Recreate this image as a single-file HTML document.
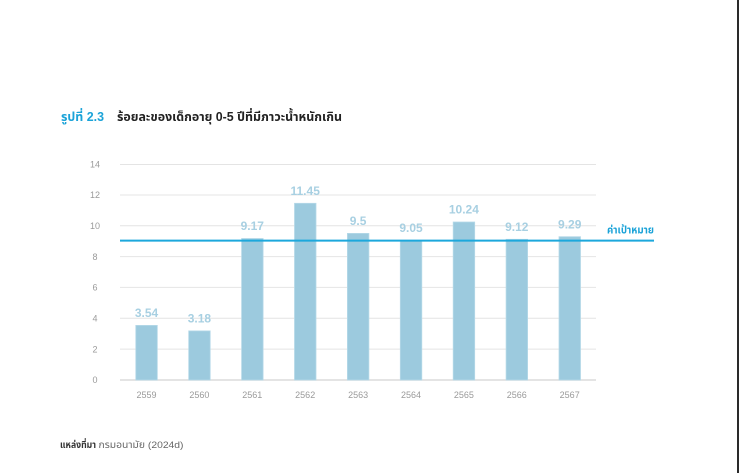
<!DOCTYPE html>
<html>
<head>
<meta charset="utf-8">
<style>
  html, body { margin: 0; padding: 0; background: #ffffff; }
  body { width: 739px; height: 473px; overflow: hidden; position: relative; }
  svg { position: absolute; left: 0; top: 0; }
  .thai { font-family: "Liberation Sans", "Noto Sans Thai", "Tlwg Typo", "Loma", "Garuda", "Norasi", "DejaVu Sans", sans-serif; }
  .num { font-family: "Liberation Sans", "DejaVu Sans", sans-serif; }
</style>
</head>
<body>
<svg width="739" height="473" viewBox="0 0 739 473" xmlns="http://www.w3.org/2000/svg">
  <rect x="0" y="0" width="739" height="473" fill="#ffffff"/>
  <rect x="737" y="0" width="2" height="473" fill="#2a2a2a"/>

  <!-- Title -->
  <text class="thai" x="61" y="121" font-size="12.5" font-weight="bold" fill="#1ba3d8" textLength="43" lengthAdjust="spacingAndGlyphs">รูปที่ 2.3</text>
  <text class="thai" x="117" y="121" font-size="12.5" font-weight="bold" fill="#222222" textLength="225" lengthAdjust="spacingAndGlyphs">ร้อยละของเด็กอายุ 0-5 ปีที่มีภาวะน้ำหนักเกิน</text>

  <!-- Gridlines -->
  <g stroke="#e4e4e4" stroke-width="1">
    <line x1="120" y1="164.5" x2="596" y2="164.5"/>
    <line x1="120" y1="195" x2="596" y2="195"/>
    <line x1="120" y1="225.8" x2="596" y2="225.8"/>
    <line x1="120" y1="256.6" x2="596" y2="256.6"/>
    <line x1="120" y1="287.4" x2="596" y2="287.4"/>
    <line x1="120" y1="318.3" x2="596" y2="318.3"/>
    <line x1="120" y1="349.1" x2="596" y2="349.1"/>
  </g>
  <line x1="120" y1="380" x2="596" y2="380" stroke="#dcdcdc" stroke-width="1.6"/>

  <!-- Y tick labels -->
  <g class="num" font-size="9" fill="#9a9a9a" text-anchor="middle">
    <text x="95" y="167.5">14</text>
    <text x="95" y="198">12</text>
    <text x="95" y="229">10</text>
    <text x="95" y="260">8</text>
    <text x="95" y="290.5">6</text>
    <text x="95" y="321.5">4</text>
    <text x="95" y="352.5">2</text>
    <text x="95" y="383">0</text>
  </g>

  <!-- Bars -->
  <g fill="#9ccade" stroke="#b6d9e8" stroke-width="0.8">
    <rect x="135.8" y="325.4" width="21.5" height="54.6"/>
    <rect x="188.7" y="330.9" width="21.5" height="49.1"/>
    <rect x="241.6" y="238.5" width="21.5" height="141.5"/>
    <rect x="294.5" y="203.3" width="21.5" height="176.7"/>
    <rect x="347.4" y="233.4" width="21.5" height="146.6"/>
    <rect x="400.3" y="240.4" width="21.5" height="139.6"/>
    <rect x="453.2" y="222.0" width="21.5" height="158.0"/>
    <rect x="506.1" y="239.3" width="21.5" height="140.7"/>
    <rect x="559.0" y="236.7" width="21.5" height="143.3"/>
  </g>

  <!-- Value labels -->
  <g class="num" font-size="12" font-weight="bold" fill="#a8d0e2" text-anchor="middle">
    <text x="146.5" y="317">3.54</text>
    <text x="199.4" y="322.5">3.18</text>
    <text x="252.3" y="230">9.17</text>
    <text x="305.2" y="195">11.45</text>
    <text x="358.1" y="225">9.5</text>
    <text x="411" y="232">9.05</text>
    <text x="463.9" y="213.5">10.24</text>
    <text x="516.8" y="231">9.12</text>
    <text x="569.7" y="228.5">9.29</text>
  </g>

  <!-- Target line -->
  <line x1="120" y1="240.6" x2="654" y2="240.6" stroke="#1ca8dc" stroke-width="2"/>
  <text class="thai" x="607" y="233.5" font-size="11" font-weight="bold" fill="#1ba3d8" textLength="47" lengthAdjust="spacingAndGlyphs">ค่าเป้าหมาย</text>

  <!-- X labels -->
  <g class="num" font-size="9" fill="#9a9a9a" text-anchor="middle">
    <text x="146.5" y="398">2559</text>
    <text x="199.4" y="398">2560</text>
    <text x="252.3" y="398">2561</text>
    <text x="305.2" y="398">2562</text>
    <text x="358.1" y="398">2563</text>
    <text x="411" y="398">2564</text>
    <text x="463.9" y="398">2565</text>
    <text x="516.8" y="398">2566</text>
    <text x="569.7" y="398">2567</text>
  </g>

  <!-- Source -->
  <text class="thai" x="60" y="448" font-size="9.5" font-weight="bold" fill="#333333" textLength="36" lengthAdjust="spacingAndGlyphs">แหล่งที่มา</text>
  <text class="thai" x="98.5" y="448" font-size="9.5" fill="#666666" textLength="85" lengthAdjust="spacingAndGlyphs">กรมอนามัย (2024d)</text>
</svg>
</body>
</html>
